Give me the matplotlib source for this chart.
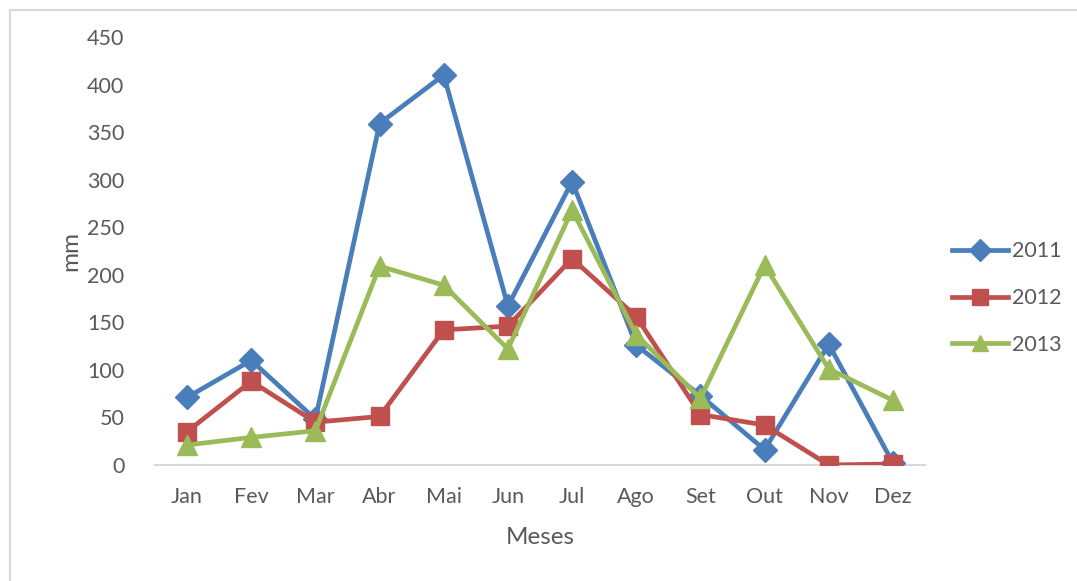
import numpy as np
import matplotlib.pyplot as plt
from matplotlib.lines import Line2D

plt.rcParams['font.family'] = ['Lato', 'DejaVu Sans']

# monthly rainfall (mm)
meses = ['Jan', 'Fev', 'Mar', 'Abr', 'Mai', 'Jun', 'Jul', 'Ago', 'Set', 'Out', 'Nov', 'Dez']
chuva_2011 = [71, 110, 48, 359, 410, 167, 298, 126, 73, 16, 127, 2]
chuva_2012 = [35, 88, 45, 51, 142, 146, 217, 156, 53, 42, 0, 1]
chuva_2013 = [21, 29, 36, 209, 189, 122, 268, 137, 70, 210, 101, 68]

fig = plt.figure(figsize=(10.77, 5.81), dpi=100)
ax = fig.add_axes([0.1439, 0.1997, 0.715, 0.7367])

x = np.arange(len(meses))
ax.plot(x, chuva_2011, color='#4A7EBB', lw=3.4, marker='D', ms=12, label='2011', zorder=3)
ax.plot(x, chuva_2012, color='#C0504D', lw=3.4, marker='s', ms=13, label='2012', zorder=4)
ax.plot(x, chuva_2013, color='#9BBB59', lw=3.4, marker='^', ms=14, label='2013', zorder=5)

ax.set_xlim(-0.5, len(meses) - 0.5)
ax.set_ylim(0, 450)
ax.set_yticks(np.arange(0, 451, 50))
ax.set_xticks(x)
ax.set_xticklabels(meses)
ax.tick_params(length=0, labelsize=15.5, colors='#595959')
ax.tick_params(axis='x', pad=16)
ax.tick_params(axis='y', pad=22)

for s in ['top', 'right', 'left']:
    ax.spines[s].set_visible(False)
ax.spines['bottom'].set_color('#D9D9D9')
ax.spines['bottom'].set_linewidth(1.5)

ax.set_xlabel('Meses', fontsize=17.5, color='#595959', labelpad=14)
ax.set_ylabel('mm', fontsize=17.5, color='#595959', labelpad=4)

leg = ax.legend(loc='center left', bbox_to_anchor=(1.01, 0.39), frameon=False,
                fontsize=15.5, labelcolor='#595959', handlelength=2.6, labelspacing=1.25,
                handletextpad=0.2)
for h in leg.legend_handles:
    h.set_markersize(11)

# outer chart frame
fig.add_artist(Line2D([10 / 1077, 10 / 1077], [0, 1 - 10 / 581], color='#D9D9D9', lw=1.5))
fig.add_artist(Line2D([10 / 1077, 1], [1 - 10 / 581, 1 - 10 / 581], color='#D9D9D9', lw=1.5))

fig.savefig('out.png', dpi=100)
